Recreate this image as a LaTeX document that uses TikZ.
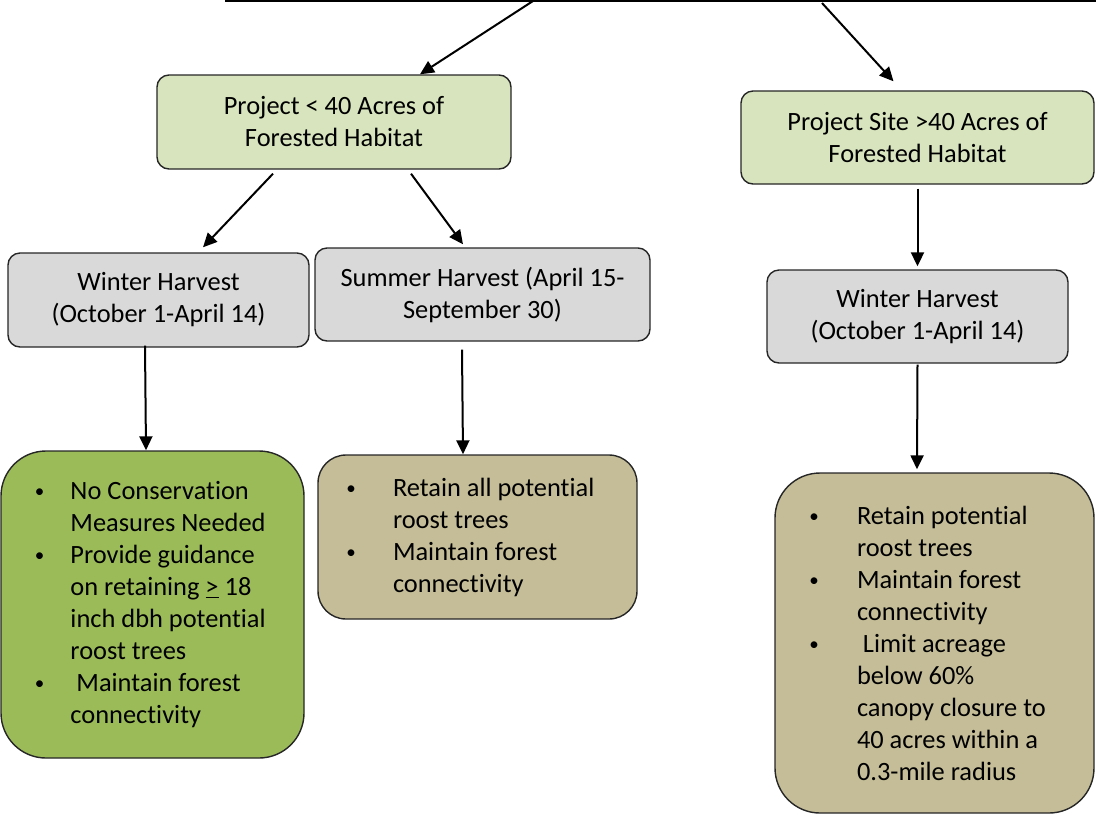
\documentclass[tikz,border=0pt]{standalone}
\usepackage{fontspec}
\setmainfont{Carlito}[Ligatures=NoCommon]
\usepackage{xcolor}
\usepackage{graphicx}
\usetikzlibrary{arrows.meta,positioning}

\newdimen\px \px=0.75pt
\definecolor{acregreen}{HTML}{D7E4BD}
\definecolor{harvestgray}{HTML}{D9D9D9}
\definecolor{measgreen}{HTML}{9BBB59}
\definecolor{meastan}{HTML}{C4BD97}
\newcommand{\bitem}[2]{\noindent\hangindent=#1\hangafter=1%
  \makebox[#1][l]{\hspace{0.05em}\raisebox{0.07em}{\scalebox{0.72}{\textbullet}}}#2\par}

\begin{document}
\begin{tikzpicture}[
      x=0.75pt, y=-0.75pt,
      base/.style={rectangle, draw=black!85, line width=1.4\px, inner sep=0pt,
                   align=center, font=\fontsize{19.8}{24}\selectfont},
      acres/.style={base, fill=acregreen, rounded corners=12\px},
      harvest/.style={base, fill=harvestgray, rounded corners=12\px},
      measure/.style={base, align=flush left},
      arr/.style={-{Triangle[length=10.5pt, width=9.75pt]}, line width=1.5pt}
    ]
    \useasboundingbox (0,0) rectangle (1096,815);
    \coordinate (topl) at (225,1);
    \coordinate (topr) at (1096,1);
    \coordinate (t1) at (533,1);
    \coordinate (t2) at (822,3);
    \draw[line width=1.5pt] (topl) -- (topr);

    \node[acres, minimum width=354\px, minimum height=94\px] (small) at (334,122)
      {Project < 40 Acres of\\Forested Habitat};
    \node[acres, minimum width=353\px, minimum height=93\px] (large) at (917.5,137.5)
      {Project Site >40 Acres of\\Forested Habitat};
    \node[harvest, minimum width=301\px, minimum height=94\px] (winterl) at (158.5,300)
      {Winter Harvest\\(October 1-April 14)};
    \node[harvest, minimum width=335\px, minimum height=93\px] (summer) at (482.5,294.5)
      {Summer Harvest (April 15-\\September 30)};
    \node[harvest, minimum width=301\px, minimum height=93\px] (winterr) at (917.5,316.5)
      {Winter Harvest\\(October 1-April 14)};

    \node[measure, fill=measgreen, rounded corners=45\px, minimum width=303\px,
          minimum height=307\px, text width=238\px] (nocons) at (152.5,604.5)
      {\bitem{37\px}{No Conservation\newline Measures Needed}
       \bitem{37\px}{Provide guidance\newline on retaining \underline{>} 18\newline inch dbh potential\newline roost trees}
       \bitem{37\px}{\ Maintain forest\newline connectivity}};
    \node[measure, fill=meastan, rounded corners=28\px, minimum width=319\px,
          minimum height=164\px, text width=265\px] (retainall) at (477.5,537)
      {\bitem{48\px}{Retain all potential\newline roost trees}
       \bitem{48\px}{Maintain forest\newline connectivity}};
    \node[measure, fill=meastan, rounded corners=45\px, minimum width=319\px,
          minimum height=340\px, text width=253\px] (limit) at (934.5,643)
      {\bitem{49\px}{Retain potential\newline roost trees}
       \bitem{49\px}{Maintain forest\newline connectivity}
       \bitem{49\px}{\ Limit acreage\newline below 60\%\newline canopy closure to\newline 40 acres within a\newline 0.3-mile radius}};

    \draw[arr] (t1) -- ([xshift=86\px]small.north);
    \draw[arr] (t2) -- ([xshift=-24\px, yshift=9\px]large.north);
    \draw[arr] ([xshift=-61\px, yshift=-4\px]small.south) -- ([xshift=44.5\px, yshift=5\px]winterl.north);
    \draw[arr] ([xshift=77\px, yshift=-4\px]small.south) -- ([xshift=-19.5\px, yshift=3\px]summer.north);
    \draw[arr] ([yshift=-4\px]large.south) -- ([yshift=3\px]winterr.north);
    \draw[arr] ([xshift=-13.5\px, yshift=2\px]winterl.south) -- ([xshift=-6.5\px]nocons.north);
    \draw[arr] ([xshift=-20.5\px, yshift=-8\px]summer.south) -- ([xshift=-14.5\px]retainall.north);
    \draw[arr] ([yshift=-1\px]winterr.south) -- ([xshift=-17.5\px, yshift=3\px]limit.north);
  \end{tikzpicture}
\end{document}
